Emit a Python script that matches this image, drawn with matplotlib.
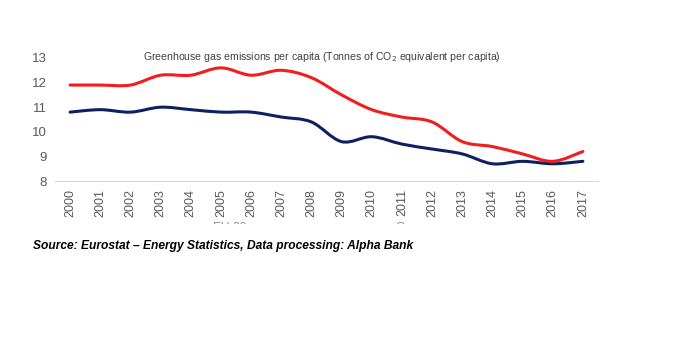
import matplotlib.pyplot as plt
import numpy as np
from matplotlib.path import Path
from matplotlib.patches import PathPatch
from matplotlib.transforms import Bbox

plt.rcParams['font.family'] = ['Liberation Sans', 'DejaVu Sans']

# Werte
years = list(range(2000, 2018))
greece = [11.9, 11.9, 11.9, 12.3, 12.3, 12.6, 12.3, 12.5, 12.2, 11.5,
          10.9, 10.6, 10.4, 9.6, 9.4, 9.1, 8.8, 9.2]
eu28 = [10.8, 10.9, 10.8, 11.0, 10.9, 10.8, 10.8, 10.6, 10.4, 9.6,
        9.8, 9.5, 9.3, 9.1, 8.7, 8.8, 8.7, 8.8]
yticks = [8, 9, 10, 11, 12, 13]


def smooth_path(x, y):
    # Bezier-Kurve durch die Punkte (wie Excel "geglaettete Linie")
    x = np.asarray(x, float)
    y = np.asarray(y, float)
    verts = [(x[0], y[0])]
    codes = [Path.MOVETO]
    n = len(x)
    for i in range(n - 1):
        p0 = (x[max(i - 1, 0)], y[max(i - 1, 0)])
        p1 = (x[i], y[i])
        p2 = (x[i + 1], y[i + 1])
        p3 = (x[min(i + 2, n - 1)], y[min(i + 2, n - 1)])
        t = 1 / 6
        c1 = (p1[0] + (p2[0] - p0[0]) * t, p1[1] + (p2[1] - p0[1]) * t)
        c2 = (p2[0] - (p3[0] - p1[0]) * t, p2[1] - (p3[1] - p1[1]) * t)
        verts += [c1, c2, p2]
        codes += [Path.CURVE4] * 3
    return Path(verts, codes)


fig = plt.figure(figsize=(6.8, 3.4), dpi=100)
ax = fig.add_axes([55 / 680, 1 - 181 / 340, 543 / 680, 123 / 340])

ax.add_patch(PathPatch(smooth_path(years, eu28), fill=False,
                       edgecolor='#0d2161', lw=2.2, capstyle='round'))
ax.add_patch(PathPatch(smooth_path(years, greece), fill=False,
                       edgecolor='#f21d1d', lw=2.2, capstyle='round'))

ax.set_xlim(1999.5, 2017.5)
ax.set_ylim(8, 13)
ax.set_yticks(yticks)
ax.set_xticks(years)
ax.set_xticklabels([str(y) for y in years], rotation=90, fontsize=9,
                   color='#595959')
ax.tick_params(axis='y', labelsize=9.5, labelcolor='#595959', length=0, pad=6)
ax.tick_params(axis='x', length=0, pad=6)
for s in ['top', 'right', 'left']:
    ax.spines[s].set_visible(False)
ax.spines['bottom'].set_color('#d9d9d9')

fig.text(322 / 680, 1 - 57 / 340,
         'Greenhouse gas emissions per capita (Tonnes of CO$_2$ equivalent per capita)',
         ha='center', va='center', fontsize=7.6, color='#404040')

# Legende (im Original abgeschnitten)
clip = Bbox.from_extents(0, 340 - 224, 680, 340)
for xx, lab in [(230, 'EU-28'), (415, 'Greece')]:
    t = fig.text(xx / 680, 1 - 228 / 340, lab, ha='center', va='center',
                 fontsize=8.5, color='#8c8c8c')
    t.set_clip_box(clip)
    t.set_clip_on(True)

fig.text(33 / 680, 1 - 246 / 340,
         'Source: Eurostat \u2013 Energy Statistics, Data processing: Alpha Bank',
         ha='left', va='center', fontsize=8.65, fontweight='bold',
         fontstyle='italic', color='black')

fig.savefig('out.png', dpi=100)
